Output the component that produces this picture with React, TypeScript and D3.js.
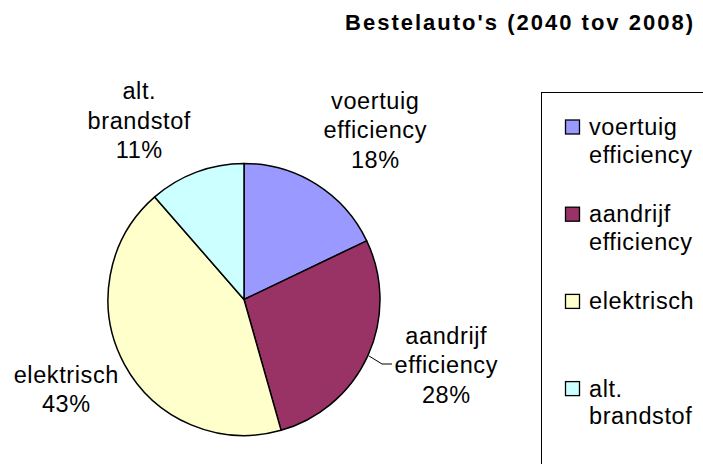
import React from "react";
import * as d3 from "d3";

const categories = ["voertuig efficiency", "aandrijf efficiency", "elektrisch", "alt. brandstof"];
const labelLines = [["voertuig", "efficiency"], ["aandrijf", "efficiency"], ["elektrisch"], ["alt.", "brandstof"]];
const values = [17.9, 27.7, 43.0, 11.4];
const colors = ["#9999FF", "#993366", "#FFFFCC", "#CCFFFF"];
const title = "Bestelauto's (2040 tov 2008)";

const W = 703, H = 464;
const cx = 244, cy = 299.5, R = 136;
const FONT = "'Liberation Sans', Arial, sans-serif";
const FS = 23.5;
const LS = 0.6;
const LINE = 29.5;

// label layout (center x, first baseline y)
const labelPos = [
  { x: 375, y: 108.5 },
  { x: 446, y: 343.5 },
  { x: 66, y: 382.5 },
  { x: 139, y: 99 },
];

export default function App() {
  const total = d3.sum(values);
  const pie = d3.pie<number>().sort(null).startAngle(0).endAngle(2 * Math.PI);
  const arcs = pie(values);
  const arcGen = d3.arc<d3.PieArcDatum<number>>().innerRadius(0).outerRadius(R);

  const a1 = arcs[1];
  const mid = (a1.startAngle + a1.endAngle) / 2;
  const lx0 = cx + Math.sin(mid) * (R + 1);
  const ly0 = cy - Math.cos(mid) * (R + 1);

  const legendX = 541.5, legendY = 92.5;
  const entryStart = 135, entryStep = 87.2, sub = 27.5;

  return (
    <svg width={W} height={H} style={{ position: "absolute", left: 0, top: 0, background: "#fff" }}>
      <rect x={0} y={0} width={W} height={H} fill="#fff" />
      <text x={345} y={29.5} fontFamily={FONT} fontWeight="bold" fontSize={22} textLength={348} lengthAdjust="spacing">
        {title}
      </text>
      <g transform={`translate(${cx},${cy})`}>
        {arcs.map((a, i) => (
          <path key={i} d={arcGen(a) || ""} fill={colors[i]} stroke="#000" strokeWidth={1.5} strokeLinejoin="round" />
        ))}
      </g>
      <polyline points={`${lx0},${ly0} 382,364 392,364`} fill="none" stroke="#000" strokeWidth={1} />
      {labelLines.map((lines, i) => {
        const p = labelPos[i];
        const all = [...lines, `${Math.round((values[i] / total) * 100)}%`];
        return (
          <text key={i} fontFamily={FONT} fontSize={FS} letterSpacing={LS} textAnchor="middle" fill="#000">
            {all.map((t, j) => (
              <tspan key={j} x={p.x + LS / 2} y={p.y + j * LINE}>{t}</tspan>
            ))}
          </text>
        );
      })}
      <rect x={legendX} y={legendY} width={W} height={H} fill="none" stroke="#000" strokeWidth={1} />
      {categories.map((c, i) => {
        const by = entryStart + i * entryStep;
        return (
          <g key={c}>
            <rect x={565.5} y={by - 15} width={14} height={14} fill={colors[i]} stroke="#000" strokeWidth={1.3} />
            <text fontFamily={FONT} fontSize={FS} letterSpacing={LS} fill="#000">
              {labelLines[i].map((t, j) => (
                <tspan key={j} x={589} y={by + j * sub}>{t}</tspan>
              ))}
            </text>
          </g>
        );
      })}
    </svg>
  );
}
